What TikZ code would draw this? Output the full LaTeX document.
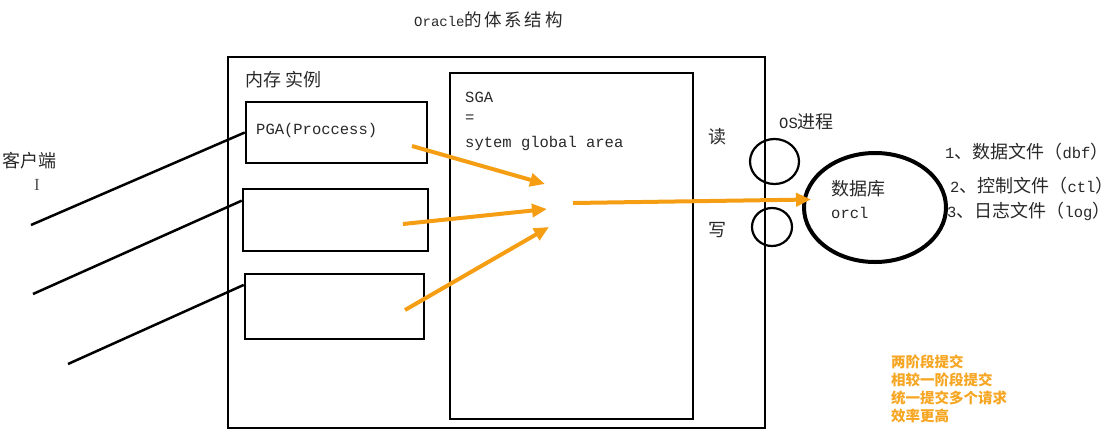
\documentclass[tikz,border=0pt]{standalone}
\usepackage{fontspec}
\setmainfont{Liberation Mono}
\newfontfamily\cjk{Noto Sans CJK SC}
\newfontfamily\cjkwide[LetterSpace=15]{Noto Sans CJK SC}
\newcommand\zh{\cjk\fontsize{18}{20}\selectfont}
\usetikzlibrary{shapes.geometric}
\usetikzlibrary{arrows.meta}
\usetikzlibrary{positioning}
\usetikzlibrary{calc}
\definecolor{floworange}{RGB}{245,158,20}
\definecolor{noteorange}{RGB}{246,166,35}
\definecolor{inkgray}{RGB}{40,40,40}

\begin{document}
\begin{tikzpicture}[x=1pt, y=-1pt,
    % Boxes and shapes
    box/.style={draw=black, line width=2.5pt, inner sep=0pt, minimum width=#1},
    io ring/.style={ellipse, draw=black, line width=2.2pt, inner sep=0pt},
    db ring/.style={ellipse, draw=black, line width=4pt, inner sep=0pt},
    % Connectors
    client/.style={draw=black, line width=2.5pt},
    flow/.style={-{Triangle[length=15pt, width=13pt]}, line width=4pt, draw=floworange},
    % Texts
    lbl/.style={inner sep=0pt, anchor=west, text=inkgray, font=\fontsize{15.5}{18}\selectfont},
    note/.style={inner sep=0pt, anchor=north west, align=left, text=noteorange,
      font=\fontsize{14.5}{18}\selectfont\cjk\bfseries}
  ]
  \useasboundingbox (0,0) rectangle (1116,437);

  % --- Title ---
  \node[lbl] (title) at (414,20) {{\fontsize{14}{16}\selectfont Oracle}{\cjkwide\fontsize{17.5}{20}\selectfont 的体系结构}};

  % --- Memory instance ---
  \node[box=537pt, minimum height=371pt] (mem) at (496.5,242.5) {};
  \node[lbl] (memlbl) at (245,80) {\zh 内存 实例};

  \node[box=181pt, minimum height=61pt] (pga) at (336.5,132.5) {};
  \node[box=185pt, minimum height=62pt] (box2) at (335.5,220) {};
  \node[box=179pt, minimum height=65pt] (box3) at (334.5,306.5) {};
  \node[lbl] (pgalbl) at (256,130) {PGA(Proccess)};

  \node[box=243pt, minimum height=346pt] (sga) at (571.5,246) {};
  \node[lbl] (sga1) at (465,97) {SGA};
  \node[lbl] (sga2) at (465,119) {=};
  \node[lbl] (sga3) at (465,143) {sytem global area};

  % --- Clients ---
  \node[lbl] (clientlbl) at (2,161) {\zh 客户端};
  \node[inner sep=0pt, text=inkgray!80, font=\fontsize{17}{17}\selectfont\fontspec{Liberation Serif}] (cursor) at (37,185) {I};
  \coordinate (cl1) at (31,225);
  \coordinate (cl2) at (33,294);
  \coordinate (cl3) at (68,364);
  \draw[client] (cl1) -- (pga.west);
  \draw[client] (cl2) -- ($(box2.north west)!0.2!(box2.south west)$);
  \draw[client] (cl3) -- ($(box3.north west)!0.18!(box3.south west)$);

  % --- OS process and database ---
  \node[lbl] (readlbl) at (708,137) {\zh 读};
  \node[lbl] (writelbl) at (708,230) {\zh 写};
  \node[io ring, minimum width=49pt, minimum height=45pt] (rd) at (774.5,161.5) {};
  \node[io ring, minimum width=40pt, minimum height=38pt] (wr) at (772,227) {};
  \node[lbl] (oslbl) at (779,122) {OS{\zh 进程}};

  \node[db ring, minimum width=142pt, minimum height=109pt] (db) at (875,207.5) {};
  \node[lbl] (dbname) at (831,189) {\zh 数据库};
  \node[lbl] (dbsid) at (831,213) {orcl};

  \node[lbl] (file1) at (945,152) {1{\zh 、数据文件（}dbf{\zh ）}};
  \node[lbl] (file2) at (950,186) {2{\zh 、控制文件（}ctl{\zh ）}};
  \node[lbl] (file3) at (947,211) {3{\zh 、日志文件（}log{\zh ）}};

  % --- Orange flows ---
  \coordinate (in1) at (412,146);
  \coordinate (in2) at (403,224);
  \coordinate (in3) at (405,310);
  \coordinate (hub1) at (545,184);
  \coordinate (hub2) at (547,209);
  \coordinate (hub3) at (549,227);
  \coordinate (sgaout) at (573,203);
  \draw[flow] (in1) -- (hub1);
  \draw[flow] (in2) -- (hub2);
  \draw[flow] (in3) -- (hub3);
  \draw[flow] (sgaout) -- ([xshift=9pt, yshift=8pt]db.west);

  % --- Note ---
  \node[note] (commit) at (891,355) {两阶段提交\\相较一阶段提交\\统一提交多个请求\\效率更高};

\end{tikzpicture}
\end{document}
